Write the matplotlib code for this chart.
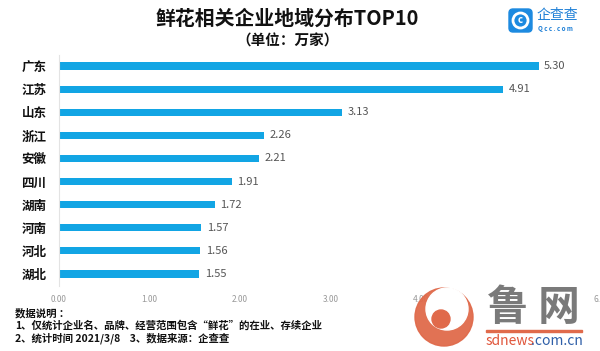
import matplotlib.pyplot as plt
from matplotlib.patches import Circle, FancyBboxPatch, Rectangle

plt.rcParams['font.family'] = ['Noto Sans CJK SC', 'DejaVu Sans']

provinces = ["广东", "江苏", "山东", "浙江", "安徽", "四川", "湖南", "河南", "河北", "湖北"]
counts = [5.30, 4.91, 3.13, 2.26, 2.21, 1.91, 1.72, 1.57, 1.56, 1.55]
xticks = [0, 1, 2, 3, 4, 5, 6]
xtick_labels = ["0.00", "1.00", "2.00", "3.00", "4.00", "", "6.00"]

fig = plt.figure(figsize=(6, 3.51), dpi=100)

# =========================
# BARS
# =========================
ax = fig.add_axes([59 / 600, 1 - 285.5 / 351, 543 / 600, 231 / 351])
y = range(len(provinces))
ax.barh(y, counts, height=0.31, color="#12A5E4")
ax.set_xlim(0, 6)
ax.set_ylim(len(provinces) - 0.5, -0.5)
ax.set_yticks(list(y))
ax.set_yticklabels(provinces, fontsize=9, fontweight="bold", color="#111111")
ax.set_xticks(xticks)
ax.set_xticklabels(xtick_labels, fontsize=6, color="#999999")
ax.tick_params(length=0)
ax.tick_params(axis="y", pad=9)
ax.tick_params(axis="x", pad=7)
for s in ["top", "right", "bottom"]:
    ax.spines[s].set_visible(False)
ax.spines["left"].set_color("#e3e3e3")
ax.set_facecolor("none")

for i, v in enumerate(counts):
    ax.annotate(f"{v:.2f}", (v, i), xytext=(4, 0), textcoords="offset points",
                va="center", ha="left", fontsize=8, color="#555555")

# =========================
# TEXT, LOGO, WATERMARK (pixel overlay)
# =========================
ov = fig.add_axes([0, 0, 1, 1], zorder=5)
ov.set_xlim(0, 600)
ov.set_ylim(351, 0)
ov.axis("off")

ov.text(287, 18, "鲜花相关企业地域分布TOP10", ha="center", va="center",
        fontsize=14.3, fontweight="bold", color="#111111")
ov.text(288, 41, "（单位：万家）", ha="center", va="center",
        fontsize=10.5, fontweight="bold", color="#111111")

# qcc logo
ov.add_patch(FancyBboxPatch((509, 9), 23, 23, boxstyle="round,pad=0,rounding_size=4",
                            color="#1d8ae0"))
ov.add_patch(Circle((520.5, 20.5), 7.5, fill=False, ec="white", lw=2))
ov.text(520.5, 20, "c", ha="center", va="center", fontsize=7,
        fontweight="bold", color="white")
ov.text(537, 15, "企查查", ha="left", va="center", fontsize=10, color="#1d7fd6")
ov.text(538, 29, "Q c c . c o m", ha="left", va="center", fontsize=4.5,
        fontweight="bold", color="#1d7fd6")

# footnote
ov.text(15, 313, "数据说明 ：", ha="left", va="center", fontsize=7.5,
        fontweight="bold", color="#111111")
ov.text(15, 326, "1、仅统计企业名、品牌、经营范围包含“鲜花”的在业、存续企业",
        ha="left", va="center", fontsize=7.5, fontweight="bold", color="#111111")
ov.text(15, 338, "2、统计时间 2021/3/8    3、数据来源：企查查",
        ha="left", va="center", fontsize=7.5, fontweight="bold", color="#111111")

# watermark
ov.add_patch(Circle((444, 317), 29, color="#e06a4b", alpha=0.95))
ov.add_patch(Circle((447, 309), 21, color="white"))
ov.add_patch(Circle((441, 319), 9, color="#e06a4b"))
ov.add_patch(Rectangle((486, 330), 96, 1.5, color="#e06a4b"))
ov.text(533, 308, "鲁 网", ha="center", va="center", fontsize=30,
        fontweight="bold", color="#7a7a7a")
ov.text(486, 341, "sdnews", ha="left", va="center", fontsize=10, color="#e0553a")
ov.text(531, 341, ".com.cn", ha="left", va="center", fontsize=10, color="#2f5fa8")

fig.savefig("out.png", dpi=100)
